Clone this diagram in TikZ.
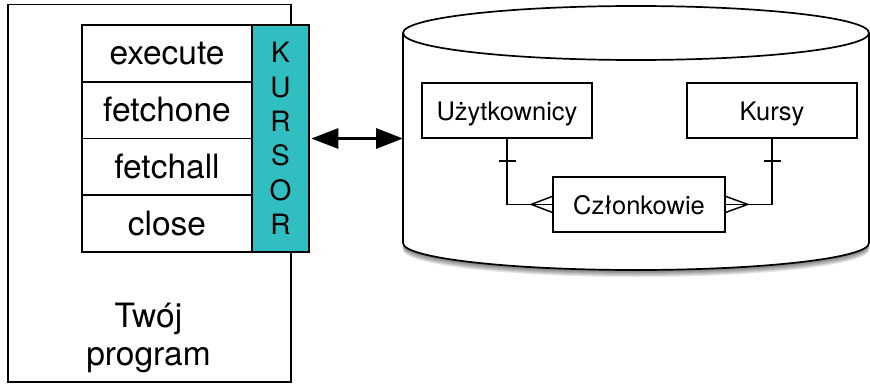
\documentclass[tikz,border=0pt]{standalone}
\usepackage{fontspec}
\setmainfont{TeX Gyre Heros}
\usetikzlibrary{arrows.meta}
\definecolor{kurteal}{HTML}{31BEC1}
\begin{document}
\begin{tikzpicture}[x=1pt,y=1pt,
  box/.style={draw, line width=1.7pt, inner sep=0pt},
  method/.style={box, minimum width=170, minimum height=56.75, text height=23pt, text depth=0pt, font=\fontsize{33.5}{38}\selectfont},
  entity/.style={box, line width=1.5pt, minimum height=55, text height=19.5pt, text depth=0pt, font=\fontsize{25.5}{30}\selectfont},
  conn/.style={line width=1.5pt},
  bigtext/.style={font=\fontsize{33.5}{38}\selectfont, inner sep=0pt, anchor=base}]
\useasboundingbox (0,0) rectangle (870,384);
\clip (0,0) rectangle (870,384);
\fill[white] (0,0) rectangle (870,384);
% program
\node[box, fill=white, minimum width=283, minimum height=377, anchor=south west] (prog) at (7,1.5) {};
\node[bigtext] (tw1) at (148.5,57) {Twój};
\node[bigtext] (tw2) at (148.5,19) {program};
% cursor
\node[box, fill=kurteal, minimum width=57, minimum height=227, align=center, font=\fontsize{28}{34.4}\selectfont] (kur) at (280.5,245.5) {K\\U\\R\\S\\O\\R};
% methods
\node[method] (m1) at (167,330.6) {execute};
\node[method] (m2) at (167,273.9) {fetchone};
\node[method] (m3) at (167,217.1) {fetchall};
\node[method] (m4) at (167,160.4) {close};
% database cylinder shadow
\foreach \i in {1,...,7}
  \fill[black, opacity=0.09] (403,351-\i) -- (403,141-\i) arc[start angle=180,end angle=360,x radius=233,y radius=27] -- (869,351-\i) -- cycle;
% cylinder
\draw[line width=1.7pt, fill=white] (403,351) -- (403,141) arc[start angle=180,end angle=360,x radius=233,y radius=27] -- (869,351) arc[start angle=0,end angle=180,x radius=233,y radius=27] -- cycle;
\draw[line width=1.7pt] (403,351) arc[start angle=180,end angle=360,x radius=233,y radius=27];
\coordinate (db) at (403,245.5);
% arrow
\draw[line width=3.2pt, {Triangle[length=27pt,width=20pt]}-{Triangle[length=27pt,width=20pt]}] (kur.east) ++(1.5,0) coordinate (ka) -- (db);
% entities
\node[entity, minimum width=170] (u) at (507,273.5) {Użytkownicy};
\node[entity, minimum width=170] (k) at (772,273.5) {Kursy};
\node[entity, minimum width=172] (c) at (639,179.6) {Członkowie};
% relations
\draw[conn] (u.south) |- (c.west);
\draw[conn] (k.south) |- (c.east);
\draw[conn] ([xshift=-8.5pt,yshift=-22pt]u.south) -- ([xshift=8.5pt,yshift=-22pt]u.south);
\draw[conn] ([xshift=-8.5pt,yshift=-22pt]k.south) -- ([xshift=8.5pt,yshift=-22pt]k.south);
\draw[conn] ([yshift=8pt]c.west) -- ([xshift=-21pt]c.west) -- ([yshift=-8pt]c.west);
\draw[conn] ([yshift=8pt]c.east) -- ([xshift=22pt]c.east) -- ([yshift=-8pt]c.east);
\end{tikzpicture}
\end{document}
